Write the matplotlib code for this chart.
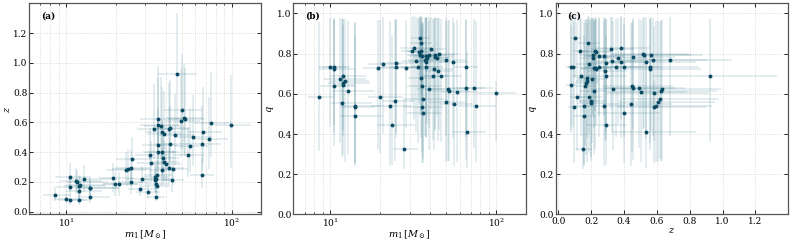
import numpy as np
import matplotlib
matplotlib.use("Agg")
import matplotlib.pyplot as plt

plt.rcParams["font.family"] = "DejaVu Serif"
plt.rcParams["mathtext.fontset"] = "dejavuserif"

# primary mass, redshift, mass ratio (medians)
m1 = [8.6, 10.0, 10.5, 10.5, 10.6, 11.5, 11.7, 11.9, 11.9, 12.2, 11.9, 12.8, 14.0, 14.0, 14.0,
      19.3, 19.8, 20.8, 23.0, 23.5, 24.5, 24.8, 25.0, 27.8, 28.7, 31.1,
      32.1, 32.7, 33.8, 34.4, 34.6, 35.1, 35.1, 35.3, 34.8, 35.6, 35.8, 36.1, 35.8, 36.1,
      37.4, 37.8, 37.9, 38.3, 37.9, 39.0, 39.2, 40.1, 41.6, 42.0, 42.6, 42.6, 43.8, 44.2,
      45.3, 46.6, 49.4, 49.9, 51.3, 52.0, 54.8, 55.8, 58.1, 65.8, 65.8, 66.9, 73.1, 74.9, 98.8]
z = [0.113, 0.087, 0.229, 0.162, 0.076, 0.202, 0.196, 0.136, 0.169, 0.176, 0.076, 0.220, 0.158, 0.098, 0.158,
     0.224, 0.187, 0.187, 0.280, 0.289, 0.200, 0.291, 0.353, 0.153, 0.218, 0.129,
     0.380, 0.327, 0.556, 0.229, 0.209, 0.222, 0.182, 0.173, 0.100, 0.247, 0.580, 0.620, 0.447, 0.398,
     0.576, 0.398, 0.536, 0.362, 0.280, 0.520, 0.331, 0.318, 0.291, 0.556, 0.453, 0.562, 0.213, 0.287,
     0.513, 0.922, 0.607, 0.680, 0.631, 0.625, 0.380, 0.444, 0.504, 0.247, 0.453, 0.536, 0.489, 0.596, 0.580]
q = [0.586, 0.736, 0.723, 0.639, 0.736, 0.675, 0.555, 0.691, 0.654, 0.663, 0.642, 0.612, 0.491, 0.535, 0.540,
     0.727, 0.585, 0.750, 0.540, 0.445, 0.565, 0.754, 0.734, 0.328, 0.729, 0.811,
     0.826, 0.762, 0.736, 0.806, 0.795, 0.814, 0.855, 0.680, 0.877, 0.790, 0.537, 0.576, 0.639, 0.506,
     0.768, 0.736, 0.760, 0.778, 0.790, 0.792, 0.622, 0.824, 0.690, 0.723, 0.785, 0.793, 0.777, 0.716,
     0.798, 0.690, 0.560, 0.770, 0.626, 0.616, 0.758, 0.550, 0.609, 0.734, 0.629, 0.410, 0.631, 0.542, 0.604]

# lower / upper uncertainties
m1_lo = [1.3, 1.6, 1.9, 1.8, 1.7, 2.3, 1.6, 2.0, 2.2, 2.2, 1.5, 2.6, 2.5, 2.3, 2.6,
         3.5, 3.0, 4.0, 5.5, 4.5, 4.0, 5.0, 5.0, 4.0, 5.5, 4.5,
         6.0, 6.0, 7.0, 5.0, 5.5, 6.0, 5.0, 6.0, 4.0, 6.0, 8.0, 8.0, 7.0, 7.0,
         8.0, 7.0, 8.0, 7.0, 6.0, 8.0, 6.0, 7.0, 7.0, 9.0, 8.0, 9.0, 6.0, 7.0,
         9.0, 11.0, 10.0, 11.0, 11.0, 11.0, 10.0, 11.0, 12.0, 10.0, 13.0, 13.0, 15.0, 16.0, 22.0]
m1_hi = [2.0, 2.4, 3.6, 3.5, 2.6, 5.0, 6.2, 4.5, 5.5, 4.9, 2.0, 5.8, 6.8, 4.5, 6.5,
         6.5, 7.5, 6.0, 8.0, 9.0, 7.5, 7.0, 8.0, 6.0, 7.5, 6.0,
         9.0, 9.0, 11.0, 7.0, 7.5, 8.0, 6.0, 7.0, 5.0, 8.0, 12.0, 13.0, 11.0, 10.0,
         12.0, 10.0, 11.0, 10.0, 8.0, 11.0, 9.0, 9.0, 10.0, 13.0, 12.0, 13.0, 8.0, 10.0,
         14.0, 15.0, 15.0, 16.0, 16.0, 17.0, 13.0, 16.0, 18.0, 12.0, 20.0, 20.0, 22.0, 24.0, 32.0]
z_lo = [0.04, 0.03, 0.09, 0.06, 0.03, 0.08, 0.08, 0.05, 0.07, 0.07, 0.03, 0.09, 0.06, 0.04, 0.06,
        0.09, 0.08, 0.08, 0.11, 0.12, 0.08, 0.12, 0.14, 0.05, 0.08, 0.04,
        0.15, 0.13, 0.20, 0.08, 0.08, 0.09, 0.06, 0.06, 0.03, 0.09, 0.22, 0.24, 0.18, 0.16,
        0.22, 0.16, 0.21, 0.14, 0.10, 0.20, 0.13, 0.12, 0.11, 0.21, 0.18, 0.22, 0.08, 0.11,
        0.20, 0.35, 0.24, 0.26, 0.25, 0.25, 0.15, 0.18, 0.20, 0.09, 0.18, 0.21, 0.20, 0.23, 0.29]
z_hi = [0.05, 0.04, 0.10, 0.07, 0.03, 0.09, 0.08, 0.06, 0.07, 0.07, 0.03, 0.09, 0.07, 0.04, 0.06,
        0.10, 0.08, 0.08, 0.12, 0.13, 0.09, 0.12, 0.15, 0.05, 0.09, 0.05,
        0.18, 0.15, 0.30, 0.09, 0.08, 0.09, 0.07, 0.07, 0.04, 0.10, 0.32, 0.36, 0.25, 0.22,
        0.33, 0.22, 0.30, 0.17, 0.12, 0.29, 0.15, 0.14, 0.13, 0.31, 0.26, 0.32, 0.09, 0.13,
        0.28, 0.41, 0.35, 0.38, 0.36, 0.34, 0.18, 0.25, 0.28, 0.11, 0.26, 0.30, 0.28, 0.34, 0.34]
q_lo = [0.27, 0.30, 0.28, 0.30, 0.33, 0.32, 0.27, 0.30, 0.36, 0.40, 0.22, 0.31, 0.24, 0.28, 0.30,
        0.40, 0.28, 0.35, 0.30, 0.20, 0.30, 0.35, 0.35, 0.10, 0.30, 0.25,
        0.35, 0.35, 0.38, 0.25, 0.30, 0.30, 0.25, 0.30, 0.20, 0.30, 0.28, 0.30, 0.33, 0.25,
        0.38, 0.35, 0.38, 0.33, 0.30, 0.36, 0.30, 0.30, 0.32, 0.40, 0.36, 0.38, 0.28, 0.35,
        0.38, 0.33, 0.30, 0.38, 0.36, 0.35, 0.38, 0.31, 0.35, 0.35, 0.36, 0.18, 0.30, 0.28, 0.24]
q_hi = [0.37, 0.24, 0.25, 0.33, 0.24, 0.30, 0.42, 0.28, 0.32, 0.31, 0.30, 0.35, 0.40, 0.42, 0.41,
        0.24, 0.38, 0.23, 0.42, 0.45, 0.40, 0.22, 0.24, 0.25, 0.24, 0.17,
        0.16, 0.22, 0.24, 0.17, 0.18, 0.17, 0.13, 0.27, 0.11, 0.19, 0.40, 0.38, 0.32, 0.44,
        0.21, 0.24, 0.22, 0.20, 0.19, 0.19, 0.34, 0.16, 0.28, 0.25, 0.19, 0.19, 0.20, 0.26,
        0.18, 0.28, 0.40, 0.21, 0.34, 0.35, 0.22, 0.40, 0.36, 0.24, 0.34, 0.40, 0.34, 0.42, 0.06]

pt_color = "#0a4b63"
err_color = "#4a8498"

fig = plt.figure(figsize=(7.93, 2.41), dpi=100)
ax_a = fig.add_axes([0.037, 0.11, 0.292, 0.876])
ax_b = fig.add_axes([0.370, 0.11, 0.293, 0.876])
ax_c = fig.add_axes([0.701, 0.11, 0.293, 0.876])

panels = [
    (ax_a, m1, z, [m1_lo, m1_hi], [z_lo, z_hi], "(a)", r"$m_1\,[M_\odot]$", r"$z$"),
    (ax_b, m1, q, [m1_lo, m1_hi], [q_lo, q_hi], "(b)", r"$m_1\,[M_\odot]$", r"$q$"),
    (ax_c, z, q, [z_lo, z_hi], [q_lo, q_hi], "(c)", r"$z$", r"$q$"),
]

for ax, xv, yv, xe, ye, lab, xl, yl in panels:
    ax.errorbar(xv, yv, xerr=xe, yerr=ye, fmt="none", ecolor=err_color,
                elinewidth=1.1, alpha=0.2, zorder=2)
    ax.plot(xv, yv, "o", color=pt_color, ms=2.8, mew=0, zorder=3)
    ax.set_xlabel(xl, fontsize=7, labelpad=0)
    ax.set_ylabel(yl, fontsize=7, labelpad=0.5)
    ax.text(0.05, 0.93, lab, transform=ax.transAxes, fontsize=6.5, fontweight="bold")
    ax.tick_params(which="both", direction="in", top=True, right=True, labelsize=6.5, pad=1.5)
    ax.tick_params(which="major", length=3, width=0.6)
    ax.tick_params(which="minor", length=1.5, width=0.5)
    ax.grid(True, which="both", linestyle=":", color="#d2d2d2", lw=0.6, zorder=0)
    for s in ax.spines.values():
        s.set_color("#555555")
        s.set_linewidth(0.9)

for ax in (ax_a, ax_b):
    ax.set_xscale("log")
    ax.set_xlim(6, 150)

ax_a.set_ylim(-0.02, 1.40)
ax_a.set_yticks(np.arange(0, 1.21, 0.2))
ax_b.set_ylim(0, 1.05)
ax_b.set_yticks(np.arange(0, 1.01, 0.2))
ax_c.set_ylim(0, 1.05)
ax_c.set_yticks(np.arange(0, 1.01, 0.2))
ax_c.set_xlim(-0.015, 1.40)
ax_c.set_xticks(np.arange(0, 1.21, 0.2))

fig.savefig("out.png", dpi=100)
